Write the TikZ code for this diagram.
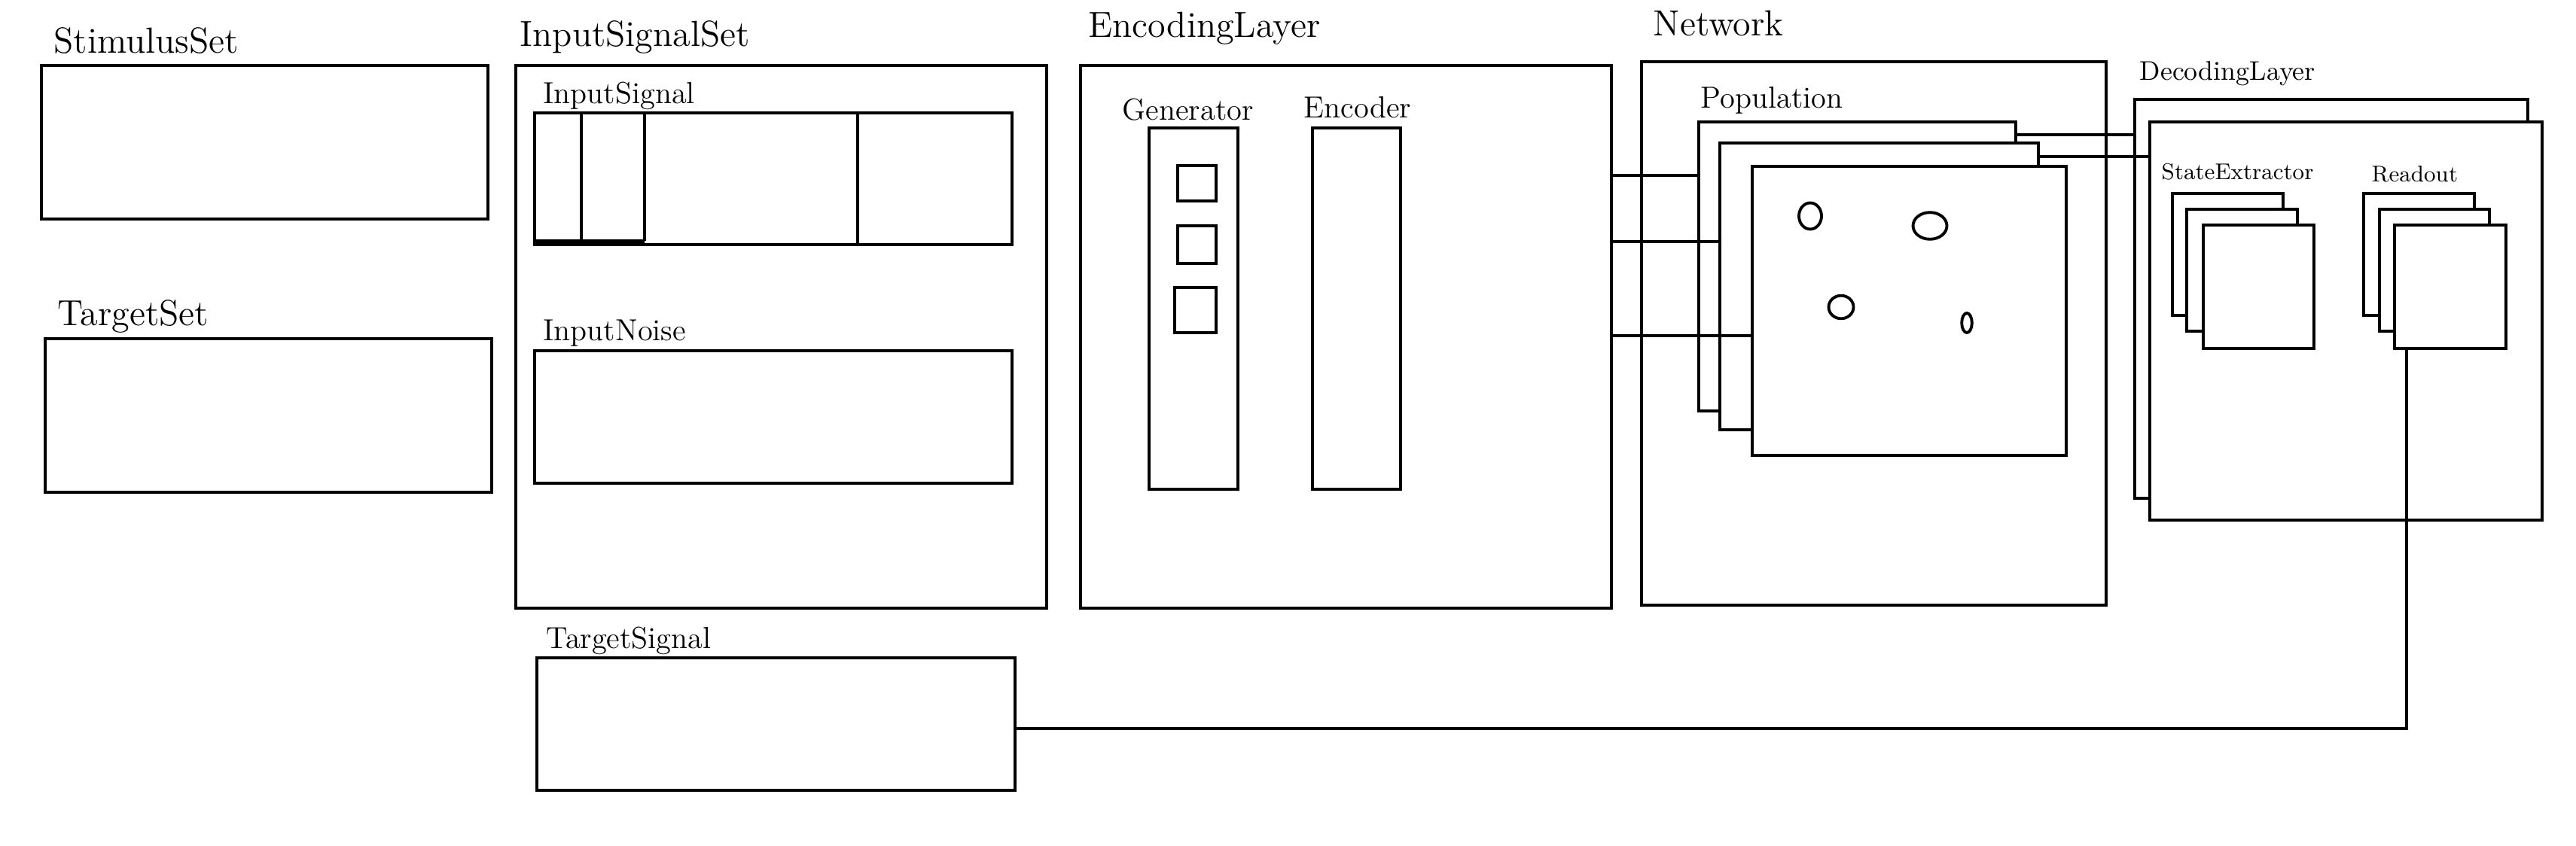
\documentclass[tikz,border=0pt]{standalone}
\usepackage{tikz}
\usetikzlibrary{calc}

\begin{document}
\begin{tikzpicture}[
    box/.style={draw, fill=white, line width=1.1pt, inner sep=0pt, outer sep=0pt, anchor=north west},
    wire/.style={line width=1.1pt},
    biglab/.style={anchor=base west, inner sep=0pt, font=\fontsize{13.7}{16}\selectfont},
    midlab/.style={anchor=base west, inner sep=0pt, font=\fontsize{11.5}{14}\selectfont},
    declab/.style={anchor=base west, inner sep=0pt, font=\fontsize{10.2}{12}\selectfont},
    smalllab/.style={anchor=base west, inner sep=0pt, font=\fontsize{8.6}{10}\selectfont}
]
    \useasboundingbox (0,0) rectangle (34.21,-11.23);

    % sets
    \node[box, minimum width=5.93cm, minimum height=2.04cm] (stim) at (0.55,-0.87) {};
    \node[box, minimum width=5.93cm, minimum height=2.04cm] (tset) at (0.60,-4.50) {};
    \node[biglab] (stimlab) at (0.71,-0.70) {StimulusSet};
    \node[biglab] (tsetlab) at (0.76,-4.32) {TargetSet};

    % input signal set
    \node[box, minimum width=7.05cm, minimum height=7.21cm] (iset) at (6.85,-0.87) {};
    \node[box, minimum width=6.34cm, minimum height=1.75cm] (isig) at (7.10,-1.50) {};
    \node[box, minimum width=6.34cm, minimum height=1.76cm] (inoise) at (7.10,-4.66) {};
    \node[box, minimum width=6.35cm, minimum height=1.76cm] (tsig) at (7.13,-8.74) {};
    \draw[wire] (7.72,-1.50) -- (7.72,-3.20);
    \draw[wire] (8.56,-1.50) -- (8.56,-3.20);
    \draw[wire] (11.39,-1.50) -- (11.39,-3.25);
    \fill (7.10,-3.18) rectangle (8.56,-3.27);
    \node[biglab] (isetlab) at (6.90,-0.61) {InputSignalSet};
    \node[midlab] (isiglab) at (7.21,-1.37) {InputSignal};
    \node[midlab] (inoiselab) at (7.21,-4.52) {InputNoise};
    \node[midlab] (tsiglab) at (7.25,-8.61) {TargetSignal};

    % encoding layer
    \node[box, minimum width=7.05cm, minimum height=7.21cm] (enc) at (14.35,-0.87) {};
    \node[box, minimum width=1.18cm, minimum height=4.80cm] (gen) at (15.26,-1.70) {};
    \node[box, minimum width=1.17cm, minimum height=4.80cm] (encoder) at (17.43,-1.70) {};
    \draw[wire] (15.64,-2.20) rectangle (16.15,-2.67);
    \draw[wire] (15.64,-3.00) rectangle (16.15,-3.50);
    \draw[wire] (15.60,-3.82) rectangle (16.15,-4.42);
    \node[biglab] (enclab) at (14.45,-0.50) {EncodingLayer};
    \node[midlab] (genlab) at (14.90,-1.59) {Generator};
    \node[midlab] (encoderlab) at (17.31,-1.56) {Encoder};

    % network
    \node[box, minimum width=6.17cm, minimum height=7.22cm] (net) at (21.80,-0.82) {};
    \node[box, minimum width=4.21cm, minimum height=3.84cm] (popA) at (22.56,-1.62) {};
    \node[box, minimum width=4.23cm, minimum height=3.81cm] (popB) at (22.84,-1.90) {};
    \node[box, minimum width=4.17cm, minimum height=3.84cm] (popC) at (23.27,-2.21) {};
    \draw[wire] (24.04,-2.87) ellipse (0.15 and 0.175);
    \draw[wire] (25.63,-3.00) ellipse (0.225 and 0.178);
    \draw[wire] (24.45,-4.08) ellipse (0.165 and 0.153);
    \draw[wire] (26.12,-4.29) ellipse (0.068 and 0.13);
    \node[biglab] (netlab) at (21.95,-0.47) {Network};
    \node[midlab] (poplab) at (22.58,-1.43) {Population};

    % decoding layer
    \node[box, minimum width=5.22cm, minimum height=5.30cm] (decB) at (28.35,-1.32) {};
    \node[box, minimum width=5.21cm, minimum height=5.29cm] (decF) at (28.55,-1.62) {};
    \node[box, minimum width=1.47cm, minimum height=1.62cm] (seA) at (28.85,-2.57) {};
    \node[box, minimum width=1.47cm, minimum height=1.62cm] (seB) at (29.04,-2.78) {};
    \node[box, minimum width=1.47cm, minimum height=1.64cm] (seC) at (29.26,-2.99) {};
    \node[box, minimum width=1.47cm, minimum height=1.62cm] (readA) at (31.39,-2.57) {};
    \node[box, minimum width=1.46cm, minimum height=1.62cm] (readB) at (31.60,-2.78) {};
    \node[box, minimum width=1.48cm, minimum height=1.64cm] (readC) at (31.80,-2.99) {};
    \node[declab] (declab) at (28.41,-1.06) {DecodingLayer};
    \node[smalllab] (selab) at (28.70,-2.38) {StateExtractor};
    \node[smalllab] (readlab) at (31.49,-2.41) {Readout};

    % connections
    \coordinate (e1) at (0,-2.33);
    \coordinate (e2) at (0,-3.21);
    \coordinate (e3) at (0,-4.46);
    \draw[wire] (e1 -| enc.east) -- (e1 -| popA.west);
    \draw[wire] (e2 -| enc.east) -- (e2 -| popB.west);
    \draw[wire] (e3 -| enc.east) -- (e3 -| popC.west);
    \coordinate (d1) at (0,-1.79);
    \coordinate (d2) at (0,-2.08);
    \draw[wire] (d1 -| popA.east) -- (d1 -| decB.west);
    \draw[wire] (d2 -| popB.east) -- (d2 -| decF.west);
    \coordinate (rd) at (31.96,-9.68);
    \draw[wire] (rd |- readC.south) -- (rd) -- (rd -| tsig.east);
\end{tikzpicture}
\end{document}
